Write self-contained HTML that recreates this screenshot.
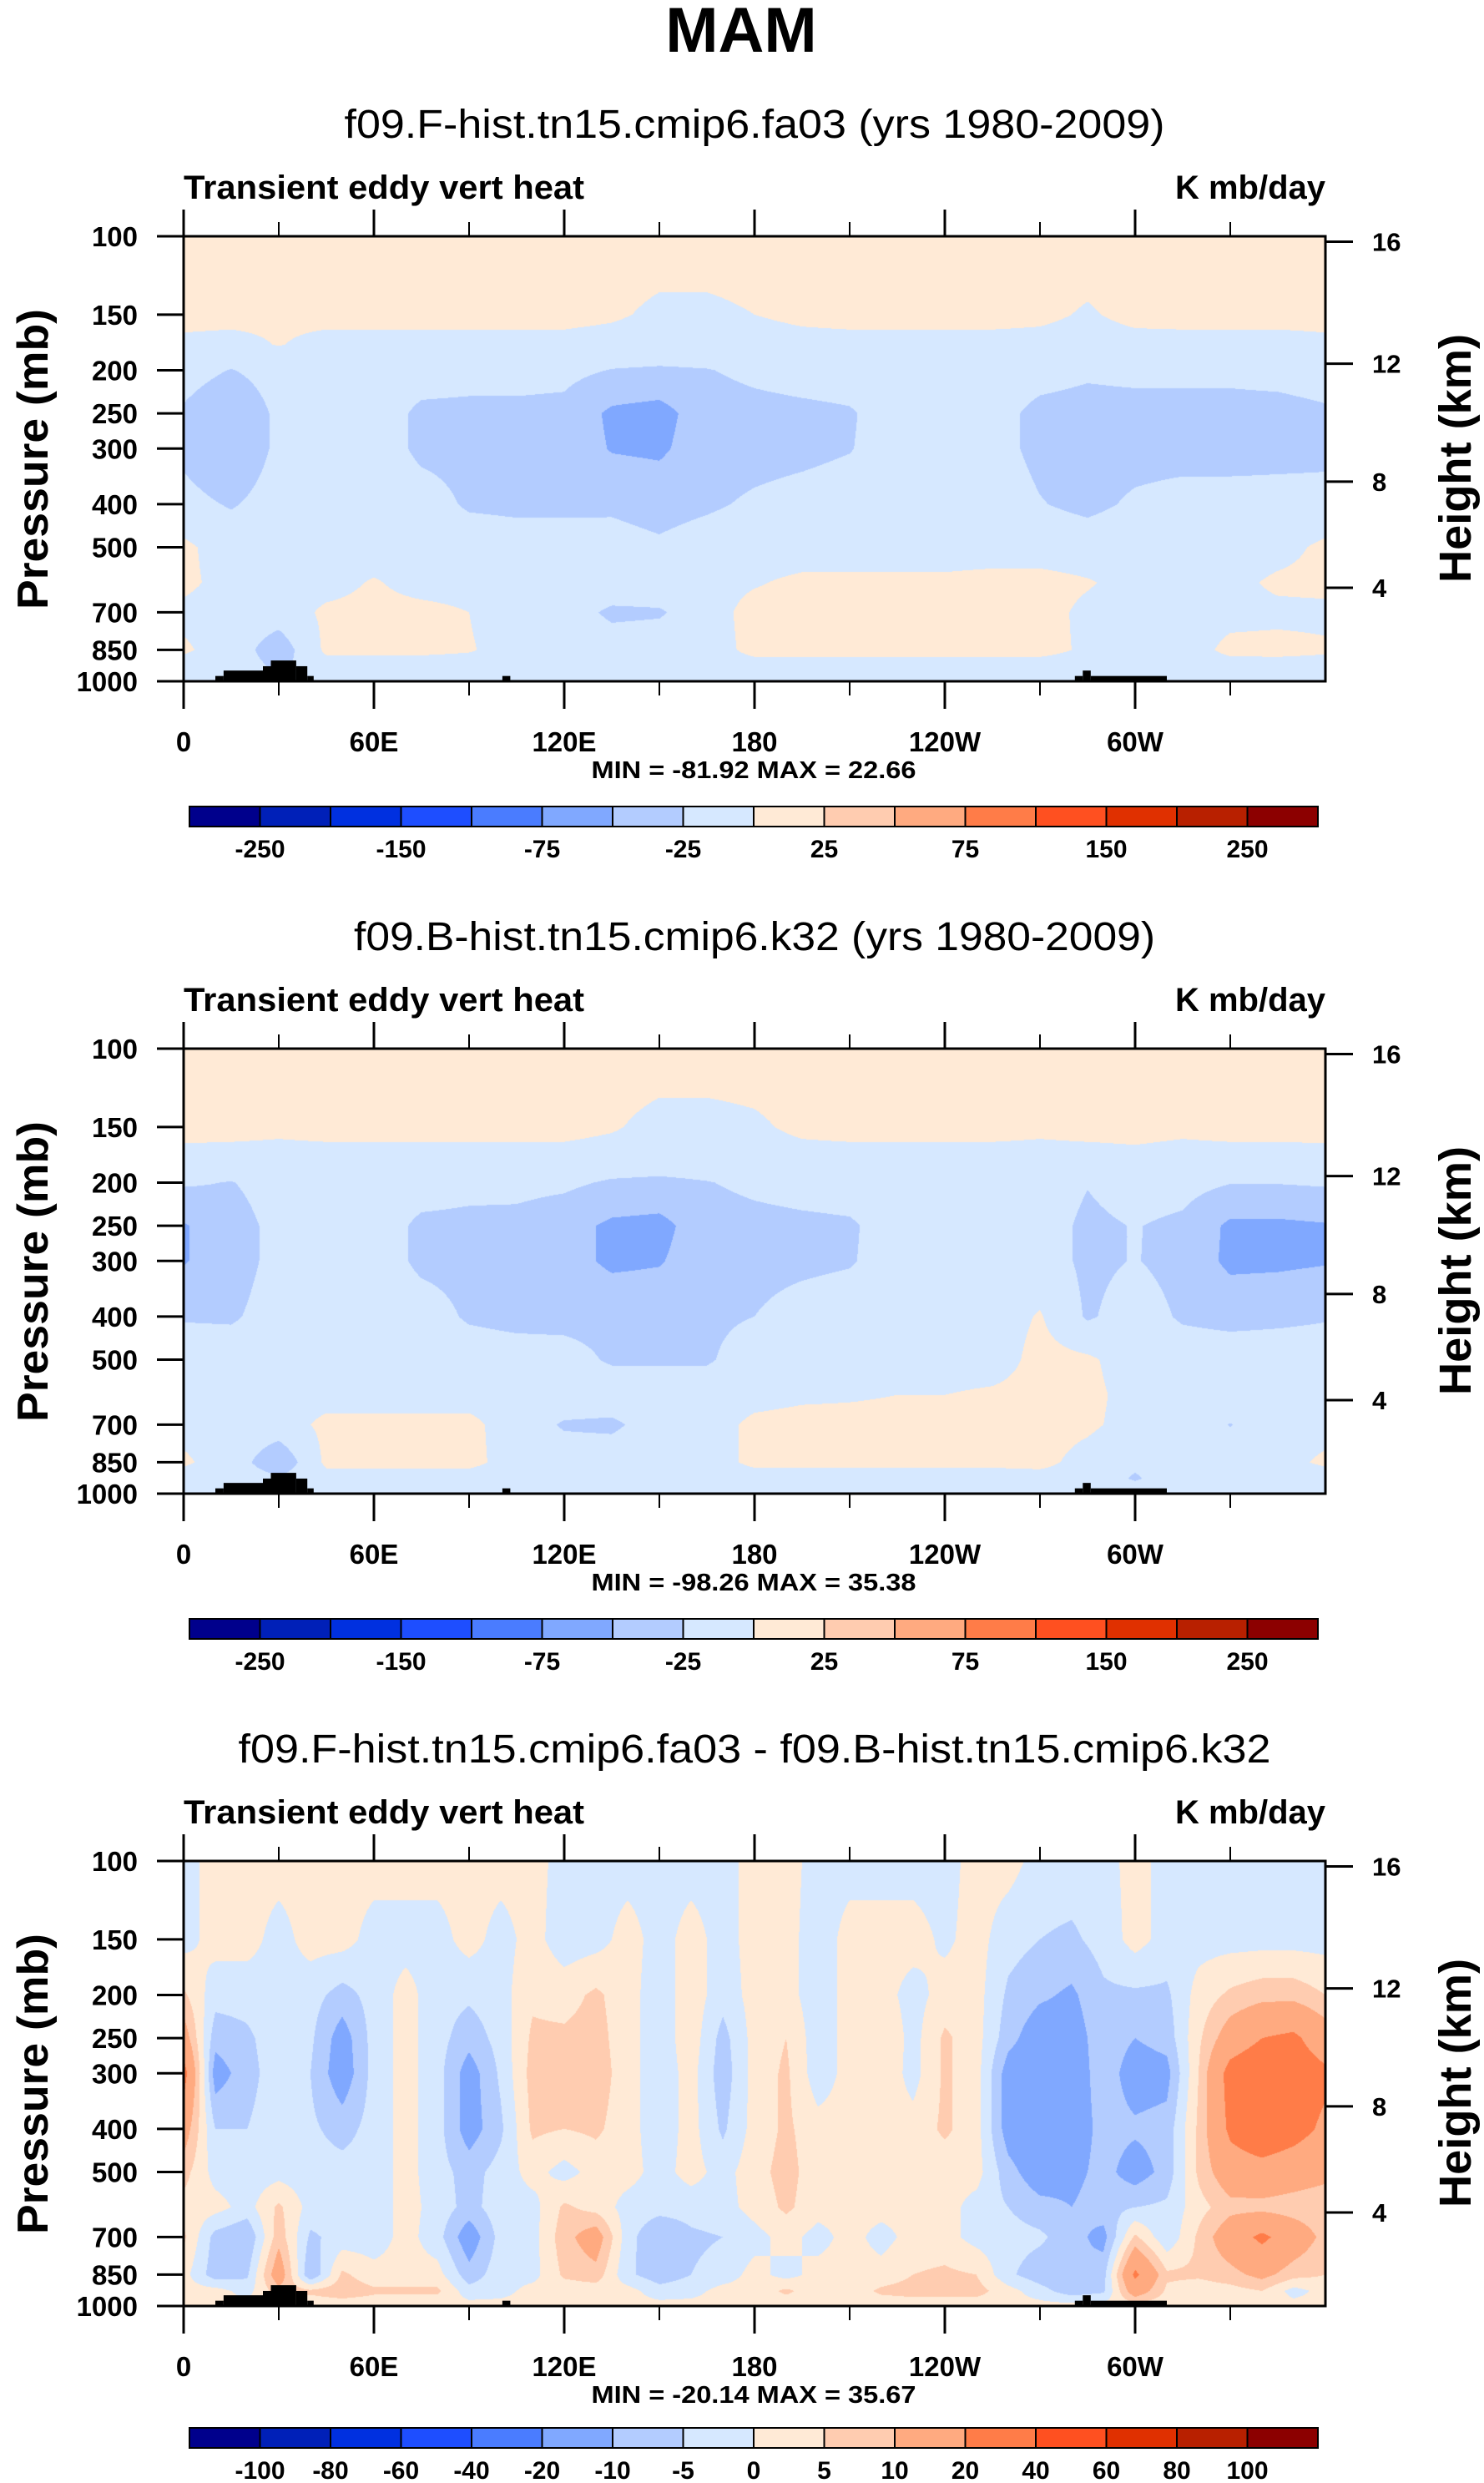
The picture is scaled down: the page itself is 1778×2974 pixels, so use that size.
<!DOCTYPE html>
<html><head><meta charset="utf-8">
<style>
html,body{margin:0;padding:0;background:#fff;}
#wrap{position:relative;width:1778px;height:2974px;overflow:hidden;}
canvas{position:absolute;}
svg{position:absolute;left:0;top:0;}
text{font-family:"Liberation Sans",Arial,sans-serif;}
</style></head>
<body>
<div id="wrap">
<canvas id="c0" width="1368" height="533" style="left:220px;top:283px"></canvas>
<canvas id="c1" width="1368" height="533" style="left:220px;top:1256px"></canvas>
<canvas id="c2" width="1368" height="533" style="left:220px;top:2229px"></canvas>
<svg id="svg" width="1778" height="2974" xmlns="http://www.w3.org/2000/svg">
<text x="888" y="62" font-size="76" font-weight="bold" text-anchor="middle">MAM</text>
</svg>
</div>
<script>
// ---------- shared data ----------
const colors = ['#00008C','#0020B8','#0030E0','#1E4EFF','#4A7CFF','#80A8FF','#B3CCFF','#D6E8FF','#FFEAD6','#FFCCB0','#FFAA80','#FF7C48','#FF5020','#E03000','#B82000','#8C0000'];
const levelsAB = [-250,-200,-150,-100,-75,-50,-25,0,25,50,75,100,150,200,250];
const levelsDiff = [-100,-80,-60,-40,-20,-10,-5,0,5,10,20,40,60,80,100];
const labelsAB = ['-250','','-150','','-75','','-25','','25','','75','','150','','250'];
const labelsDiff = ['-100','-80','-60','-40','-20','-10','-5','0','5','10','20','40','60','80','100'];
const pressureTicks = [100,150,200,250,300,400,500,700,850,1000];
const heightTicksKm = [4,8,12,16];
const lonTicks = [0,60,120,180,240,300];
const lonTickLabels = ['0','60E','120E','180','120W','60W'];
const lonMinorTicks = [30,90,150,210,270,330];

// panels 1 & 2 grid: longitudes every 15 deg, 13 pressure levels
const lonsAB = [0,15,30,45,60,75,90,105,120,135,150,165,180,195,210,225,240,255,270,285,300,315,330,345,360];
const levsAB = [100,150,175,200,250,300,400,500,600,700,850,925,1000];

const f_100 = [10,10,10,10,10,10,10,10,10,10,10,10,10,10,10,10,10,10,10,10,10,10,10,10,10];
const f_150 = [6,6,4,6,6,6,6,6,6,3,-4,-4,0,4,6,6,6,6,4,-2,5,6,6,6,6];
const f_175 = [-4,-6,1,-6,-6,-6,-6,-6,-6,-8,-10,-10,-8,-6,-6,-6,-6,-6,-6,-8,-6,-6,-6,-6,-4];
const f_200 = [-15,-26,-15,-12,-12,-14,-16,-16,-18,-26,-28,-26,-20,-16,-15,-12,-12,-15,-18,-22,-20,-20,-20,-18,-15];
const f_250 = [-28,-45,-20,-12,-12,-30,-31,-31,-32,-55,-60,-35,-32,-30,-27,-15,-15,-18,-30,-32,-32,-32,-32,-32,-28];
const f_300 = [-30,-45,-20,-12,-12,-30,-32,-32,-32,-52,-55,-34,-32,-30,-26,-15,-15,-18,-30,-33,-32,-32,-32,-31,-30];
const f_400 = [-18,-27,-15,-12,-12,-15,-28,-30,-30,-28,-32,-28,-22,-18,-15,-12,-12,-14,-24,-30,-22,-18,-18,-18,-18];
const f_500 = [5,-12,-12,-12,-12,-12,-12,-14,-14,-18,-22,-16,-12,-12,-12,-12,-12,-12,-12,-14,-12,-12,-12,-8,5];
const f_600 = [5,-8,-8,-8,2,-8,-8,-8,-8,-8,-8,-8,-2,5,5,5,5,8,8,2,-8,-8,-6,4,6];
const f_700 = [-5,-10,-12,4,6,6,0,-15,-12,-30,-28,-10,8,8,8,8,8,8,8,-5,-10,-10,-6,-5,-5];
const f_850 = [3,-10,-40,5,5,5,2,-10,-10,-12,-10,-10,6,6,6,6,6,6,6,-3,-10,-10,5,6,3];
const f_925 = [-8,-10,-30,-10,-10,-10,-10,-10,-10,-10,-10,-10,-8,-8,-8,-8,-8,-8,-8,-8,-10,-10,-8,-8,-8];
const f_1000 = [-8,-8,-8,-8,-8,-8,-8,-8,-8,-8,-8,-8,-8,-8,-8,-8,-8,-8,-8,-8,-8,-8,-8,-8,-8];

const b_100 = [10,10,10,10,10,10,10,10,10,10,10,10,10,10,10,10,10,10,10,10,10,10,10,10,10];
const b_150 = [6,6,4,6,6,6,6,6,6,2,-6,-6,-3,4,6,6,6,6,4,6,6,4,6,6,6];
const b_175 = [-5,-6,-6,-6,-6,-6,-6,-6,-6,-8,-10,-10,-8,-6,-6,-6,-6,-6,-6,-6,-4,-6,-6,-6,-5];
const b_200 = [-22,-26,-15,-12,-12,-14,-18,-18,-20,-28,-30,-26,-20,-16,-14,-12,-12,-12,-12,-24,-14,-16,-24,-24,-22];
const b_250 = [-52,-35,-18,-12,-12,-30,-31,-32,-40,-55,-58,-35,-32,-30,-28,-14,-12,-12,-14,-30,-24,-30,-55,-55,-52];
const b_300 = [-52,-35,-18,-12,-12,-30,-32,-32,-40,-55,-52,-35,-32,-30,-27,-14,-12,-12,-14,-30,-24,-32,-56,-55,-52];
const b_400 = [-27,-28,-15,-12,-12,-14,-28,-32,-32,-32,-33,-30,-25,-16,-12,-12,-12,-12,2,-28,-14,-28,-32,-30,-27];
const b_500 = [-12,-12,-12,-12,-12,-12,-12,-14,-16,-28,-28,-28,-12,-12,-12,-12,-12,-12,8,4,-12,-12,-12,-12,-12];
const b_600 = [-8,-8,-8,-8,-8,-8,-8,-8,-8,-10,-12,-10,-6,-3,-2,0,0,4,8,6,-8,-8,-8,-8,-8];
const b_700 = [-6,-8,-10,5,5,5,5,-10,-28,-30,-12,-8,4,6,6,6,6,6,8,4,-8,-8,-26,-8,-6];
const b_850 = [3,-10,-45,5,5,5,5,-8,-10,-10,-10,-8,4,4,4,4,4,4,6,-8,-20,-8,-8,-6,3];
const b_925 = [-8,-10,-20,-8,-8,-8,-8,-8,-8,-8,-8,-8,-8,-8,-8,-8,-8,-8,-8,-8,-28,-8,-8,-8,-8];
const b_1000 = [-8,-8,-8,-8,-8,-8,-8,-8,-8,-8,-8,-8,-8,-8,-8,-8,-8,-8,-8,-8,-8,-8,-8,-8,-8];

// panel 3 grid: longitudes every 10 deg, 12 pressure levels
const lonsD = [0,10,20,30,40,50,60,70,80,90,100,110,120,130,140,150,160,170,180,190,200,210,220,230,240,250,260,270,280,290,300,310,320,330,340,350,360];
const levsD = [100,150,200,250,300,400,500,600,700,850,925,1000];
const d_100 = [-2,2,2,2,2,2,2,2,2,2,2,2,-2,-2,-2,-2,-2,-2,2,2,-2,-2,-2,-2,-2,2,2,-2,-2,-2,2,-2,-2,-2,-2,-2,-2];
const d_150 = [-2,2,2,-2,2,2,-2,-2,-2,2,-2,2,-3,-2,2,-2,2,-2,2,2,-3,2,2,2,-1,2,-3,-5,-6,-3,2,-2,-2,-2,-2,-2,-2];
const d_200 = [6,-3,-3,-2,-3,-7,-3,2,-3,-4,-2,4,3,6,2,-3,3,-3,2,2,-3,2,2,-2,2,2,-6,-9,-11,-6,-6,-6,2,6,8,8,5];
const d_250 = [14,-8,-6,-2,-4,-13,-3,2,-3,-8,-3,6,6,7,2,-3,3,-7,2,5,-3,2,5,-2,6,2,-8,-14,-13,-7,-10,-8,4,14,20,22,14];
const d_300 = [24,-13,-7,-2,-5,-14,-3,2,-3,-13,-4,7,6,8,2,-3,2,-8,2,6,-3,2,4,-2,6,2,-13,-16,-14,-7,-13,-12,5,24,28,26,22];
const d_400 = [14,-5,-5,-2,-4,-7,-3,2,-3,-13,-6,6,5,6,2,-3,2,-6,2,6,2,2,2,2,6,2,-13,-16,-14,-8,-9,-8,6,22,28,24,18];
const d_500 = [7,-2,-3,-2,-3,-3,-3,2,-3,-7,-3,2,-2,2,2,-2,2,-2,3,7,2,2,2,2,2,2,-8,-14,-12,-8,-13,-8,6,15,16,14,12];
const d_600 = [3,2,-2,6,-2,-2,-3,2,-2,-7,-2,-2,6,3,-2,-3,-3,-2,2,6,2,2,2,2,2,-2,-5,-8,-10,-7,-5,-4,3,8,8,7,6];
const d_700 = [6,-7,-10,8,-6,-3,-3,2,-3,-14,-3,-2,8,14,-3,-10,-6,-5,-2,2,-2,2,-2,2,2,-2,-3,-4,-8,-12,6,-4,6,15,22,15,8];
const d_850 = [2,-8,-6,15,-10,6,2,2,2,-8,-2,-2,6,8,-4,-8,-5,-3,2,-2,2,2,2,5,6,5,-4,-8,-10,-7,22,6,6,8,12,7,5];
const d_925 = [2,2,-2,8,6,8,6,6,6,-3,-2,2,2,2,2,-3,-2,2,2,6,2,2,6,7,7,7,2,-3,-8,-6,15,4,2,3,5,-2,2];
const d_1000 = [2,2,2,2,2,2,2,2,2,2,2,2,2,2,2,2,2,2,2,2,2,2,2,2,2,2,2,2,2,2,2,2,2,2,2,2,2];

// topography blocks: start lon, end lon, top pressure (mb)
const topoLonStart = [10,12.6,25,27.5,35.5,39,100.5,281,283.5,286];
const topoLonEnd   = [12.6,25,27.5,35.5,39,41,103,283.5,286,310];
const topoTopP     = [973,946,925,898,925,973,973,973,946,973];

const panelTitles = ['f09.F-hist.tn15.cmip6.fa03 (yrs 1980-2009)','f09.B-hist.tn15.cmip6.k32 (yrs 1980-2009)','f09.F-hist.tn15.cmip6.fa03 - f09.B-hist.tn15.cmip6.k32'];
const panelTitleWidths = [983,960,1237];
const minMaxText = ['MIN = -81.92  MAX =  22.66','MIN = -98.26  MAX =  35.38','MIN = -20.14  MAX =  35.67'];

// ---------- geometry ----------
const PL = 220, PW = 1368, PH = 533;
const panelTops = [283, 1256, 2229];
function yOfP(top, p){ return top + PH*(Math.log10(p)-2); }
function xOfLon(lon){ return PL + PW*lon/360; }
function pOfKm(z){ const m=z*1000; if(m<=11000) return 1013.25*Math.pow(1-2.25577e-5*m,5.25588); return 226.32*Math.exp(-(m-11000)/6341.6); }

function colorIndex(v, levels){ let k=0; while(k<levels.length && v>=levels[k]) k++; return k; }
function hex(c){ return [parseInt(c.substr(1,2),16),parseInt(c.substr(3,2),16),parseInt(c.substr(5,2),16)]; }

function drawField(canvas, lons, levs, rows, levels){
  const ctx = canvas.getContext('2d');
  const img = ctx.createImageData(PW, PH);
  const rgb = colors.map(hex);
  const logLevs = levs.map(Math.log10);
  const colI = new Array(PW), colT = new Array(PW);
  for(let x=0;x<PW;x++){
    const lon = (x+0.5)/PW*360;
    let i=0; while(i<lons.length-2 && lon>lons[i+1]) i++;
    colI[x]=i; colT[x]=(lon-lons[i])/(lons[i+1]-lons[i]);
  }
  for(let y=0;y<PH;y++){
    const lp = 2 + (y+0.5)/PH;
    let j=0; while(j<logLevs.length-2 && lp>logLevs[j+1]) j++;
    const u = (lp-logLevs[j])/(logLevs[j+1]-logLevs[j]);
    const r0 = rows[j], r1 = rows[j+1];
    for(let x=0;x<PW;x++){
      const i=colI[x], t=colT[x];
      const a = r0[i]*(1-t)+r0[i+1]*t;
      const b = r1[i]*(1-t)+r1[i+1]*t;
      const v = a*(1-u)+b*u;
      const c = rgb[colorIndex(v, levels)];
      const o = (y*PW+x)*4;
      img.data[o]=c[0]; img.data[o+1]=c[1]; img.data[o+2]=c[2]; img.data[o+3]=255;
    }
  }
  ctx.putImageData(img,0,0);
}

drawField(document.getElementById('c0'), lonsAB, levsAB, [f_100,f_150,f_175,f_200,f_250,f_300,f_400,f_500,f_600,f_700,f_850,f_925,f_1000], levelsAB);
drawField(document.getElementById('c1'), lonsAB, levsAB, [b_100,b_150,b_175,b_200,b_250,b_300,b_400,b_500,b_600,b_700,b_850,b_925,b_1000], levelsAB);
drawField(document.getElementById('c2'), lonsD, levsD, [d_100,d_150,d_200,d_250,d_300,d_400,d_500,d_600,d_700,d_850,d_925,d_1000], levelsDiff);

// ---------- SVG overlay ----------
const NS='http://www.w3.org/2000/svg';
const svg=document.getElementById('svg');
function mk(tag, attrs, parent){ const e=document.createElementNS(NS,tag); for(const k in attrs) e.setAttribute(k,attrs[k]); (parent||svg).appendChild(e); return e; }

for(let k=0;k<3;k++){
  const top = panelTops[k];
  const bot = top+PH;
  const off = top-283;
  const g = mk('g',{});
  
  

  const st = mk('text',{x:904,y:165+off,'font-size':48,'text-anchor':'middle',textLength:panelTitleWidths[k],lengthAdjust:'spacingAndGlyphs'},g);
  st.textContent = panelTitles[k];
  
  

  const lt = mk('text',{x:220,y:238+off,'font-size':40,'font-weight':'bold',textLength:480,lengthAdjust:'spacingAndGlyphs'},g);
  lt.textContent='Transient eddy vert heat';
  
  

  const ut = mk('text',{x:1588,y:238+off,'font-size':40,'font-weight':'bold','text-anchor':'end'},g);
  ut.textContent='K mb/day';
  
  

  // topography
  for(let t=0;t<topoLonStart.length;t++){
    const x0=xOfLon(topoLonStart[t]), x1=xOfLon(topoLonEnd[t]);
    const y0=yOfP(top, topoTopP[t]);
    const r = mk('rect',{x:x0,y:y0,width:x1-x0,height:bot-y0,fill:'#000'},g);
    
    
  }

  // frame
  const fr = mk('rect',{x:PL,y:top,width:PW,height:PH,fill:'none',stroke:'#000','stroke-width':3},g);
  
  

  // pressure ticks
  pressureTicks.forEach(p=>{
    const y=yOfP(top,p);
    const l=mk('line',{x1:188,x2:PL,y1:y,y2:y,stroke:'#000','stroke-width':3},g);
    
    
    const t=mk('text',{x:165,y:y+12,'font-size':33,'font-weight':'bold','text-anchor':'end'},g);
    t.textContent=String(p);
    
    
  });
  // height ticks
  heightTicksKm.forEach(z=>{
    const y=yOfP(top,pOfKm(z));
    const l=mk('line',{x1:PL+PW,x2:1621,y1:y,y2:y,stroke:'#000','stroke-width':3},g);
    
    
    const t=mk('text',{x:1644,y:y+11,'font-size':31,'font-weight':'bold'},g);
    t.textContent=String(z);
    
    
  });
  // lon ticks
  lonTicks.forEach((lon,i)=>{
    const x=xOfLon(lon);
    const l=mk('line',{x1:x,x2:x,y1:bot,y2:bot+33,stroke:'#000','stroke-width':3},g);
    
    
    const l2=mk('line',{x1:x,x2:x,y1:top,y2:top-32,stroke:'#000','stroke-width':3},g);
    
    
    const t=mk('text',{x:x,y:bot+84,'font-size':33,'font-weight':'bold','text-anchor':'middle'},g);
    t.textContent=lonTickLabels[i];
    
    
  });
  lonMinorTicks.forEach(lon=>{
    const x=xOfLon(lon);
    const l=mk('line',{x1:x,x2:x,y1:bot,y2:bot+17,stroke:'#000','stroke-width':2},g);
    
    
    const l2=mk('line',{x1:x,x2:x,y1:top,y2:top-17,stroke:'#000','stroke-width':2},g);
    
    
  });

  // axis titles
  const pt=mk('text',{x:0,y:0,'font-size':52,'font-weight':'bold','text-anchor':'middle',textLength:360,lengthAdjust:'spacingAndGlyphs'},g);
  pt.setAttribute('transform','translate(57,'+(550+off)+') rotate(-90)');
  pt.textContent='Pressure (mb)';
  
  
  const ht=mk('text',{x:0,y:0,'font-size':54,'font-weight':'bold','text-anchor':'middle',textLength:298,lengthAdjust:'spacingAndGlyphs'},g);
  ht.setAttribute('transform','translate(1762,'+(549+off)+') rotate(-90)');
  ht.textContent='Height (km)';
  
  

  // min/max
  const mm=mk('text',{x:903,y:932+off,'font-size':29,'font-weight':'bold','text-anchor':'middle',textLength:389,lengthAdjust:'spacingAndGlyphs'},g);
  mm.setAttribute('xml:space','preserve');
  mm.textContent=minMaxText[k];
  
  

  // colorbar
  const cbY = (k===2) ? 2908 : 966+off;
  const cbX0=227, cbX1=1579, cbH=24, bw=(cbX1-cbX0)/16;
  const cb=mk('g',{},g);
  
  
  for(let c=0;c<16;c++){
    const r=mk('rect',{x:cbX0+c*bw,y:cbY,width:bw,height:cbH,fill:colors[c],stroke:'#000','stroke-width':2},cb);
    
    
  }
  const labs = (k===2)?labelsDiff:labelsAB;
  labs.forEach((s,i)=>{
    if(!s) return;
    const t=mk('text',{x:cbX0+(i+1)*bw,y:cbY+61,'font-size':30,'font-weight':'bold','text-anchor':'middle'},cb);
    t.textContent=s;
    
    
  });
}
</script>
</body></html>
